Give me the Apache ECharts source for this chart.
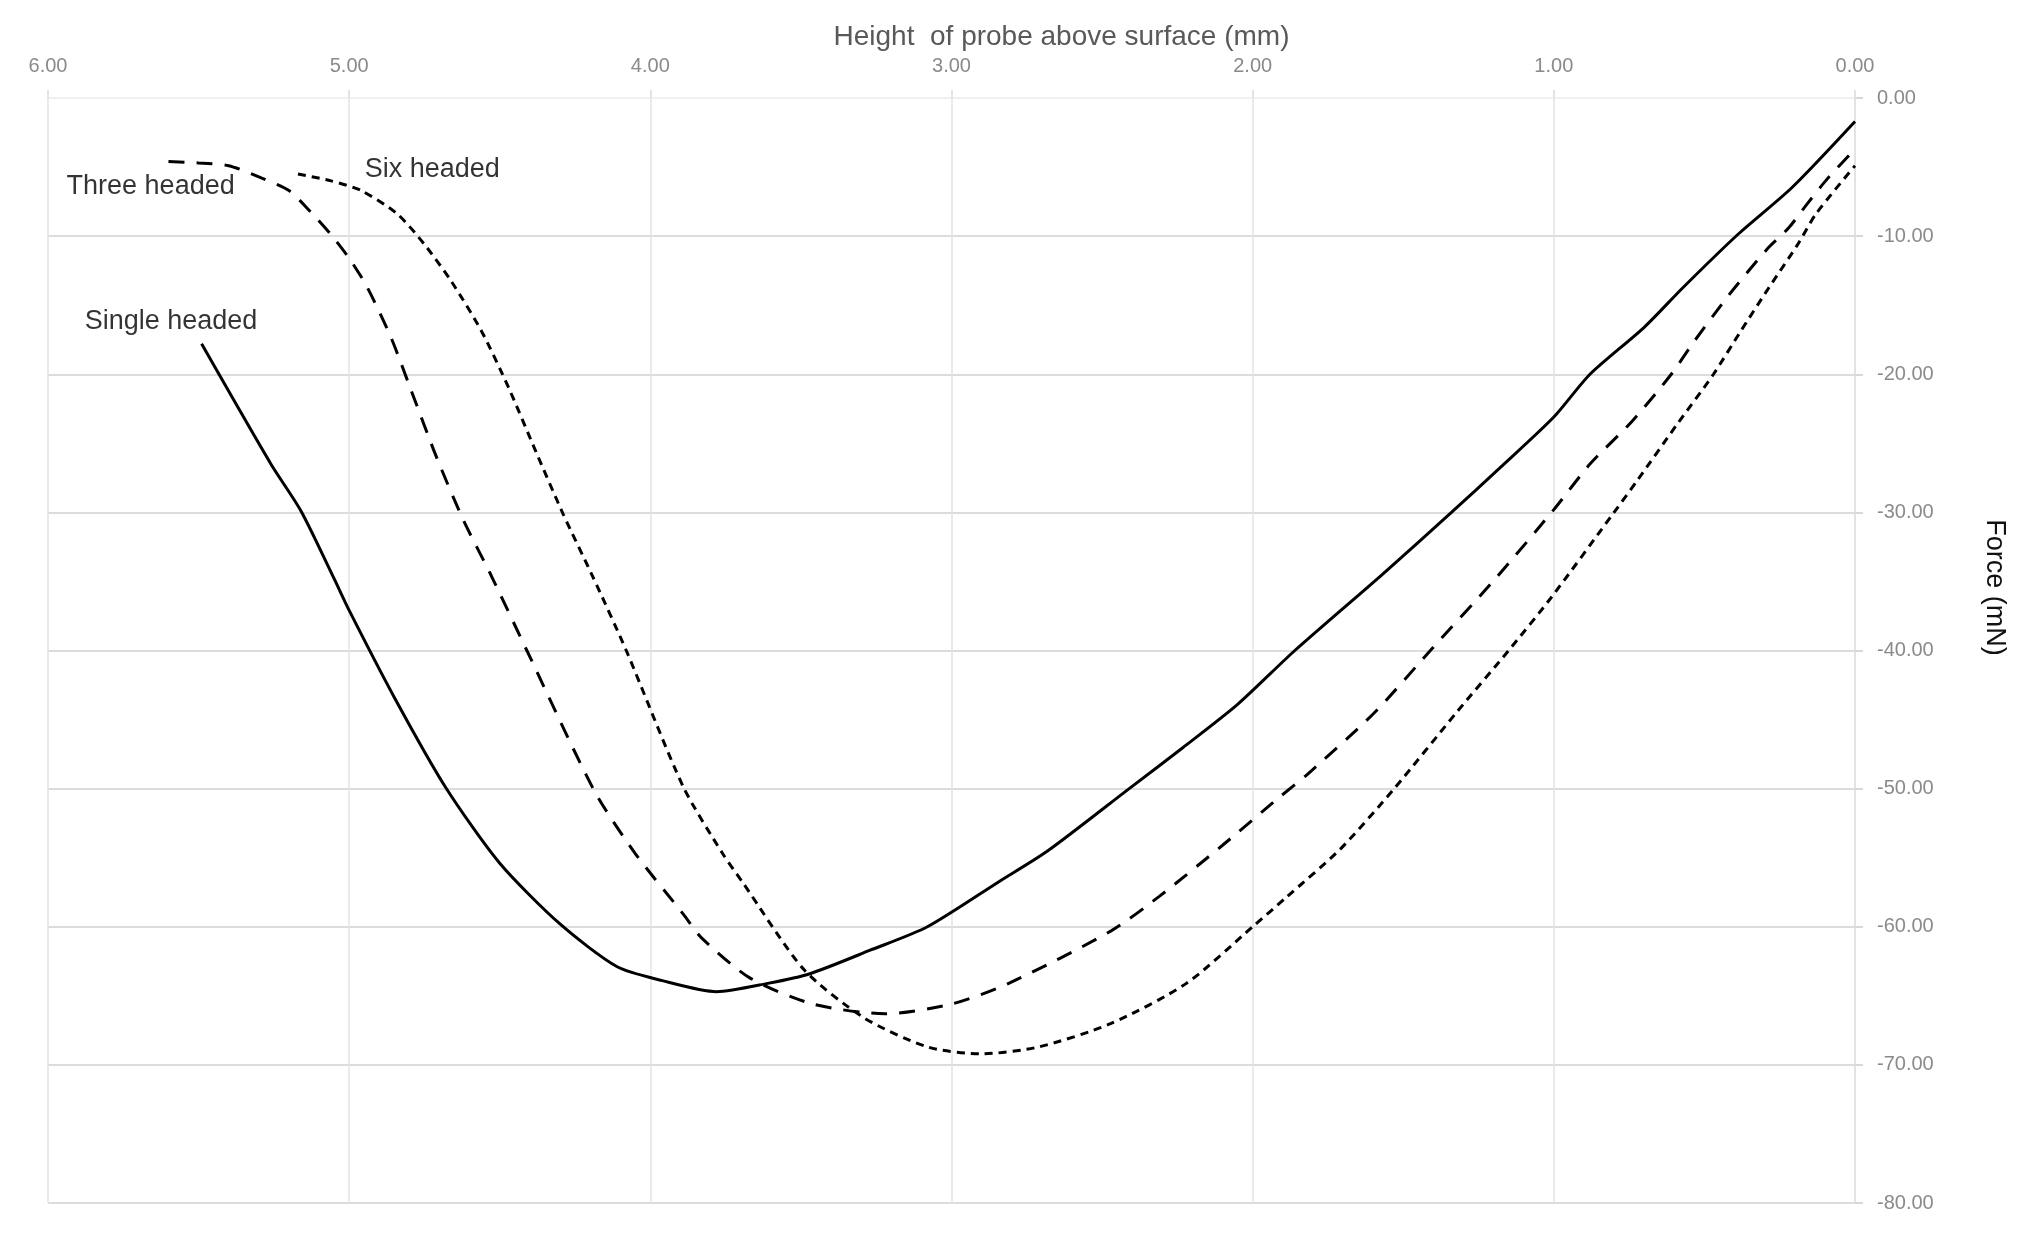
<!DOCTYPE html>
<html><head><meta charset="utf-8">
<script src="https://cdn.jsdelivr.net/npm/echarts@6/dist/echarts.min.js"></script>
<style>html,body{margin:0;padding:0;background:#fff}#c{width:2023px;height:1245px}</style>
</head><body><div id="c"></div>
<script>
// Axis ticks
const xTicks = [0, 1, 2, 3, 4, 5, 6];
const yTicks = [0, -10, -20, -30, -40, -50, -60, -70, -80];

// Single headed (solid)
const singleH = [5.49, 5.26, 5.16, 5.05, 5.00, 4.85, 4.68, 4.50, 4.30, 4.11, 3.96, 3.78, 3.61, 3.47, 3.27, 3.08, 2.84, 2.68, 2.41, 2.23, 2.05, 1.86, 1.57, 1.34, 1.18, 1.00, 0.88, 0.70, 0.57, 0.39, 0.21, 0.00];
const singleF = [-17.8, -26.5, -29.9, -34.8, -37.1, -43.4, -49.9, -55.4, -59.8, -62.9, -63.9, -64.7, -64.1, -63.4, -61.7, -60.0, -56.7, -54.5, -50.0, -47.0, -43.9, -40.0, -34.5, -30.0, -26.8, -23.1, -20.0, -16.6, -13.7, -9.9, -6.5, -1.7];

// Three headed (dashed)
const threeH = [5.60, 5.50, 5.40, 5.29, 5.20, 5.13, 5.06, 5.00, 4.94, 4.86, 4.785, 4.71, 4.62, 4.53, 4.41, 4.185, 4.05, 3.89, 3.83, 3.67, 3.46, 3.22, 3.00, 2.81, 2.47, 2.31, 2.10, 1.91, 1.82, 1.60, 1.41, 1.19, 1.00, 0.88, 0.74, 0.61, 0.54, 0.42, 0.29, 0.22, 0.16, 0.09, 0.00];
const threeF = [-4.6, -4.7, -4.9, -5.8, -6.7, -8.2, -9.9, -11.6, -13.7, -17.4, -21.7, -26.0, -30.6, -34.5, -40.0, -50.2, -54.7, -59.1, -60.8, -63.7, -65.6, -66.3, -65.6, -64.1, -60.3, -57.8, -54.1, -50.6, -49.0, -44.6, -40.0, -34.7, -29.8, -26.5, -23.4, -20.0, -17.8, -14.3, -10.9, -9.4, -7.7, -5.8, -3.7];

// Six headed (dotted)
const sixH = [5.17, 5.06, 4.96, 4.84, 4.75, 4.66, 4.56, 4.47, 4.38, 4.29, 4.19, 4.08, 3.89, 3.76, 3.69, 3.49, 3.29, 3.08, 2.90, 2.71, 2.47, 2.22, 2.00, 1.89, 1.71, 1.53, 1.32, 1.15, 1.01, 0.80, 0.72, 0.59, 0.47, 0.38, 0.285, 0.19, 0.13, 0.00];
const sixF = [-5.5, -6.0, -6.7, -8.4, -10.6, -13.3, -16.9, -21.0, -25.6, -30.1, -34.7, -40.0, -49.9, -54.7, -56.9, -63.1, -66.6, -68.7, -69.2, -68.7, -67.0, -64.1, -60.0, -57.9, -54.4, -50.0, -44.4, -40.0, -36.2, -30.0, -27.6, -23.6, -20.0, -16.9, -13.7, -10.6, -8.4, -4.9];

// Curve annotations (text, height, force at text's left-middle)
const annotText = ['Three headed', 'Six headed', 'Single headed'];
const annotH = [5.94, 4.95, 5.88];
const annotF = [-6.4, -5.2, -16.2];

const zip = (a, b) => a.map((v, i) => [v, b[i]]);

const chart = echarts.init(document.getElementById('c'), null, {renderer: 'canvas'});
const lineBase = {type: 'line', showSymbol: false, symbol: 'none', smooth: 0.25, animation: false, z: 3};
chart.setOption({
  animation: false,
  backgroundColor: '#fff',
  grid: {left: 48, right: 168, top: 98, bottom: 42},
  xAxis: {
    type: 'value', position: 'top', inverse: true,
    min: xTicks[0], max: xTicks[xTicks.length - 1], interval: xTicks[1] - xTicks[0],
    name: 'Height  of probe above surface (mm)', nameLocation: 'middle', nameGap: 46,
    nameTextStyle: {fontSize: 28, color: '#595959', fontFamily: 'Liberation Sans', padding: [0, 0, 0, 220]},
    axisLine: {show: true, onZero: false, lineStyle: {color: '#ececec', width: 1.5}},
    axisTick: {show: true, length: 8, lineStyle: {color: '#dcdcdc', width: 1.5}},
    axisLabel: {margin: 22, fontSize: 20, color: '#8a8a8a', fontFamily: 'Liberation Sans', formatter: v => v.toFixed(2)},
    splitLine: {show: true, lineStyle: {color: '#e3e3e3', width: 1.5}}
  },
  yAxis: {
    type: 'value', position: 'right',
    min: yTicks[yTicks.length - 1], max: yTicks[0], interval: yTicks[0] - yTicks[1],
    name: 'Force (mN)', nameLocation: 'middle', nameRotate: -90, nameGap: 126,
    nameTextStyle: {fontSize: 27, color: '#111', fontFamily: 'Liberation Sans', padding: [0, 126, 0, 0]},
    axisLine: {show: true, onZero: false, lineStyle: {color: '#e0e0e0', width: 1.5}},
    axisTick: {show: true, length: 8, lineStyle: {color: '#d9d9d9', width: 2}},
    axisLabel: {margin: 22, fontSize: 20, color: '#8a8a8a', fontFamily: 'Liberation Sans', formatter: v => v.toFixed(2)},
    splitLine: {show: true, showMaxLine: false, lineStyle: {color: '#dcdcdc', width: 2}}
  },
  series: [
    Object.assign({}, lineBase, {name: 'Single headed', data: zip(singleH, singleF), lineStyle: {color: '#000', width: 3, type: 'solid'}}),
    Object.assign({}, lineBase, {name: 'Three headed', data: zip(threeH, threeF), lineStyle: {color: '#000', width: 3, type: [16, 12]}}),
    Object.assign({}, lineBase, {name: 'Six headed', data: zip(sixH, sixF), lineStyle: {color: '#000', width: 3, type: [8, 6]}}),
    {
      type: 'scatter', silent: true, animation: false, symbolSize: 1,
      itemStyle: {color: 'rgba(0,0,0,0)'},
      data: annotText.map((t, i) => ({name: t, value: [annotH[i], annotF[i]]})),
      label: {show: true, position: 'right', distance: 0, formatter: p => p.name, fontSize: 27, color: '#000', fontFamily: 'Liberation Sans'}
    }
  ]
});
</script>
</body></html>
